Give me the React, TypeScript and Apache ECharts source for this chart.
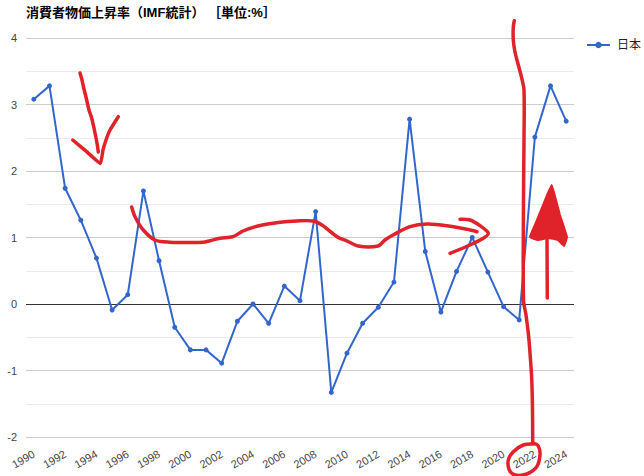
import React, { useEffect, useRef } from "react";
import * as echarts from "echarts";

const FONT = "Arial, 'Liberation Sans', 'Noto Sans CJK JP', sans-serif";
const TITLE = "消費者物価上昇率（IMF統計） ［単位:%］";
const SERIES_NAME = "日本";

const years = [
  "1990", "1991", "1992", "1993", "1994", "1995", "1996", "1997", "1998", "1999",
  "2000", "2001", "2002", "2003", "2004", "2005", "2006", "2007", "2008", "2009",
  "2010", "2011", "2012", "2013", "2014", "2015", "2016", "2017", "2018", "2019",
  "2020", "2021", "2022", "2023", "2024",
];

const japanCpi = [
  3.08, 3.28, 1.74, 1.26, 0.69, -0.09, 0.14, 1.70, 0.65, -0.35,
  -0.69, -0.69, -0.89, -0.26, 0.0, -0.29, 0.27, 0.05, 1.39, -1.33,
  -0.74, -0.29, -0.05, 0.33, 2.78, 0.79, -0.12, 0.49, 1.00, 0.48,
  -0.04, -0.24, 2.51, 3.28, 2.75,
];

const yMin = -2;
const yMax = 4;
const yStep = 1;

// Hand-drawn red markup over the chart (pixel strokes)
const RED = "#e0222a";
const strokeArrowShaft = [[80, 73], [82, 80], [83.5, 87], [86.7, 100], [89, 110], [91.7, 118], [95, 133], [97, 143], [98.3, 152]];
const strokeArrowHead = [[72.7, 140], [86.7, 151.7], [100.5, 163.5], [103, 150], [106, 140], [110, 130], [118.3, 116.7]];
const strokeLongCurve = [
  [131.7, 207], [135, 216.7], [143.3, 230], [155, 240], [170, 242.3], [185, 242.5], [203, 242.3],
  [210, 240.7], [220, 238.3], [233, 236.7], [243, 231], [258, 226], [280, 222.3], [297, 221],
  [313, 221], [323, 225.7], [337, 236.7], [347, 241], [358, 246], [378, 246], [385, 240],
  [393, 235], [410, 226.7], [427, 224], [447, 225.7], [467, 229.3], [477, 231.7],
];
const strokeCurveHead = [[460, 219.3], [470, 220], [480, 225.7], [488.3, 233.3], [483.3, 238.3], [470, 245], [450, 253.3]];
const strokeVertical = [
  [514.3, 20.7], [513.3, 27], [513.3, 40], [515, 52], [518.3, 65], [521.7, 78], [524, 90],
  [524, 140], [523.5, 200], [523.5, 300], [526, 315], [528.5, 335], [530, 353], [531.7, 378],
  [532.5, 410], [532.7, 443],
];
const strokeCircle = [
  [533.3, 444], [523.3, 445], [513.3, 451.7], [508.3, 460], [509.3, 470], [515, 475],
  [526.7, 474], [536.7, 466.7], [540, 455], [538.3, 446], [533.3, 443.3],
];
const filledArrowHead = [
  [551.7, 185], [556, 200], [560, 215], [567, 237], [564, 246], [558, 240], [548, 238],
  [538, 240], [530, 237], [537, 220], [545, 200],
];
const filledArrowShaft = [[547, 237], [547.3, 298]];

function strokeEl(points: number[][], smooth: number, width = 3.5) {
  return {
    type: "polyline",
    silent: true,
    z: 100,
    shape: { points, smooth },
    style: { stroke: RED, lineWidth: width, fill: "none", lineCap: "round", lineJoin: "round" },
  };
}

export default function App() {
  const ref = useRef<HTMLDivElement>(null);

  useEffect(() => {
    document.body.style.margin = "0";
    if (!ref.current) return;
    const chart = echarts.init(ref.current, null, { renderer: "svg" });
    const zeroIndex = Math.round((0 - yMin) / yStep);
    const tickCount = Math.round((yMax - yMin) / yStep) + 1;
    const splitColors = Array.from({ length: tickCount }, (_, i) => (i === zeroIndex ? "#333333" : "#cccccc"));

    chart.setOption({
      animation: false,
      backgroundColor: "#ffffff",
      textStyle: { fontFamily: FONT },
      title: {
        text: TITLE,
        left: 26,
        top: 6,
        padding: 0,
        textStyle: { fontSize: 13, fontWeight: "bold", color: "#000000", fontFamily: FONT },
      },
      legend: {
        data: [SERIES_NAME],
        left: 586,
        top: 39,
        padding: 0,
        itemWidth: 23,
        itemHeight: 8,
        itemStyle: { borderWidth: 0 },
        textStyle: { fontSize: 12, color: "#222222", fontFamily: FONT, padding: [0, 0, 0, 2] },
      },
      grid: { left: 26, right: 70, top: 38, bottom: 39, containLabel: false },
      xAxis: {
        type: "category",
        data: years,
        boundaryGap: true,
        axisLine: { show: false },
        axisTick: { show: false },
        splitLine: { show: false },
        axisLabel: { interval: 1, rotate: 30, fontSize: 11, color: "#444444", margin: 16, fontFamily: FONT },
      },
      yAxis: {
        type: "value",
        min: yMin,
        max: yMax,
        interval: yStep,
        axisLine: { show: false },
        axisTick: { show: false },
        axisLabel: { fontSize: 11, color: "#444444", margin: 9, fontFamily: FONT },
        splitLine: { show: true, lineStyle: { color: splitColors, width: 1 } },
        minorTick: { show: false, splitNumber: 2 },
        minorSplitLine: { show: true, lineStyle: { color: "#ebebeb", width: 1 } },
      },
      series: [
        {
          name: SERIES_NAME,
          type: "line",
          data: japanCpi,
          symbol: "circle",
          symbolSize: 5,
          itemStyle: { color: "#3366cc" },
          lineStyle: { color: "#3366cc", width: 2 },
          z: 3,
        },
      ],
      graphic: [
        strokeEl(strokeArrowShaft, 0.3),
        strokeEl(strokeArrowHead, 0.1),
        strokeEl(strokeLongCurve, 0.3),
        strokeEl(strokeCurveHead, 0.3),
        strokeEl(strokeVertical, 0.3),
        strokeEl(strokeCircle, 0.4),
        {
          type: "polygon",
          silent: true,
          z: 100,
          shape: { points: filledArrowHead, smooth: 0.1 },
          style: { fill: RED, stroke: RED, lineWidth: 2, lineJoin: "round" },
        },
        strokeEl(filledArrowShaft, 0),
      ],
    });
    return () => chart.dispose();
  }, []);

  return (
    <div
      ref={ref}
      style={{ position: "fixed", left: 0, top: 0, width: 644, height: 476, background: "#fff" }}
    />
  );
}
